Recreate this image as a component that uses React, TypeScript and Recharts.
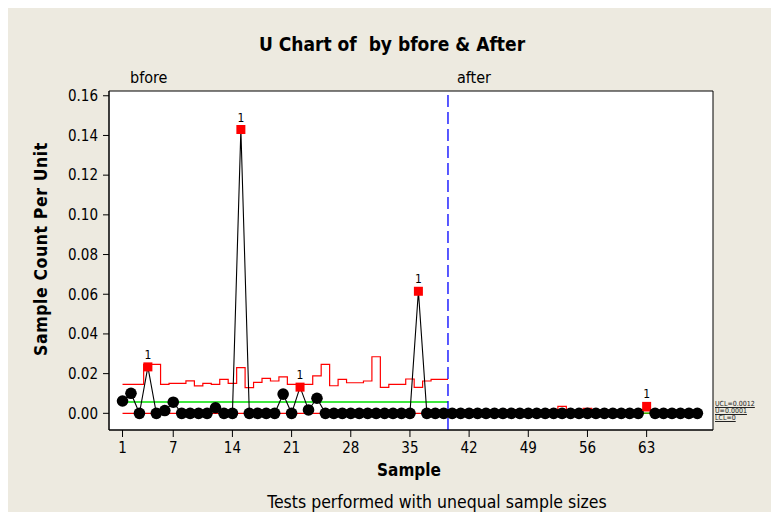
import React from "react";
import {
  ComposedChart,
  Line,
  XAxis,
  YAxis,
  CartesianGrid,
  ReferenceLine,
  ReferenceArea,
} from "recharts";

const FONT = "Tahoma, 'DejaVu Sans Condensed', 'DejaVu Sans', sans-serif";

// sample numbers 1..69
const samples = [
  1, 2, 3, 4, 5, 6, 7, 8, 9, 10, 11, 12, 13, 14, 15, 16, 17, 18, 19, 20, 21, 22, 23,
  24, 25, 26, 27, 28, 29, 30, 31, 32, 33, 34, 35, 36, 37, 38, 39, 40, 41, 42, 43, 44, 45,
  46, 47, 48, 49, 50, 51, 52, 53, 54, 55, 56, 57, 58, 59, 60, 61, 62, 63, 64, 65, 66, 67,
  68, 69,
];

// u (count per unit) per sample
const uValues = [
  0.0062, 0.0101, 0, 0.0234, 0, 0.0014, 0.0056, 0, 0, 0, 0, 0.0028, 0, 0, 0.143, 0, 0, 0,
  0, 0.0097, 0, 0.0132, 0.0017, 0.0076, 0, 0, 0, 0, 0, 0, 0, 0, 0, 0, 0, 0.0615, 0, 0, 0,
  0, 0, 0, 0, 0, 0, 0, 0, 0, 0, 0, 0, 0, 0, 0, 0, 0, 0, 0, 0, 0, 0, 0, 0.0035, 0, 0, 0, 0,
  0, 0,
];

// points failing test 1
const flagged = [4, 15, 22, 36, 63];

// upper control limits, phase "bfore" (samples 1-39)
const uclBefore = [
  0.0146, 0.0146, 0.0146, 0.0247, 0.0247, 0.0146, 0.0151, 0.0151, 0.0164, 0.0138, 0.0151,
  0.0146, 0.0171, 0.0151, 0.023, 0.0129, 0.0156, 0.0176, 0.0163, 0.0184, 0.0146, 0.0146,
  0.0146, 0.0189, 0.0247, 0.0139, 0.0171, 0.0154, 0.0154, 0.0163, 0.0285, 0.0131, 0.0146,
  0.0146, 0.0173, 0.0131, 0.0163, 0.0171, 0.0171,
];

// upper control limits, phase "after" (samples 40-69)
const uclAfter = [
  0.0012, 0.0012, 0.0018, 0.0012, 0.0012, 0.0012, 0.0012, 0.0018, 0.0012, 0.0012, 0.0012,
  0.0012, 0.0018, 0.0035, 0.0012, 0.0012, 0.0025, 0.0012, 0.0016, 0.0012, 0.0012, 0.0012,
  0.0012, 0.0012, 0.0012, 0.0012, 0.0012, 0.0012, 0.0012, 0.0012,
];

const phaseSplit = 39.5;
const centerBefore = 0.0057;
const centerAfter = 0.00012;
const lcl = 0;

const xTicks = [1, 7, 14, 21, 28, 35, 42, 49, 56, 63];
const yTicks = [0, 0.02, 0.04, 0.06, 0.08, 0.1, 0.12, 0.14, 0.16];
const X_DOMAIN: [number, number] = [-0.6, 70.85];
const Y_DOMAIN: [number, number] = [-0.0084, 0.1624];

const nBefore = uclBefore.length;
const lastSample = samples[samples.length - 1];

const points = samples.map((s, i) => ({ x: s, u: uValues[i] }));
const uclBeforeData = [
  ...uclBefore.map((v, i) => ({ x: samples[i], y: v })),
  { x: phaseSplit, y: uclBefore[nBefore - 1] },
];
const uclAfterData = [
  { x: phaseSplit, y: uclAfter[0] },
  ...uclAfter.map((v, i) => ({ x: samples[nBefore + i], y: v })),
];
const clBeforeData = [
  { x: samples[0], y: centerBefore },
  { x: phaseSplit, y: centerBefore },
];
const clAfterData = [
  { x: phaseSplit, y: centerAfter },
  { x: lastSample, y: centerAfter },
];
const lclData = [
  { x: samples[0], y: lcl },
  { x: lastSample, y: lcl },
];

function UDot(props: any) {
  const { cx, cy, payload } = props;
  if (cx == null || cy == null) return null;
  if (flagged.includes(payload.x)) {
    return (
      <g key={`d${payload.x}`}>
        <rect x={cx - 4.5} y={cy - 4.5} width={9} height={9} fill="#ff0000" />
        <text x={cx} y={cy - 8} textAnchor="middle" fontSize={12} fontFamily={FONT} fill="#000">
          1
        </text>
      </g>
    );
  }
  return <circle key={`d${payload.x}`} cx={cx} cy={cy} r={5.8} fill="#000" />;
}

const txt: React.CSSProperties = {
  position: "absolute",
  fontFamily: FONT,
  color: "#000",
  whiteSpace: "nowrap",
  lineHeight: 1,
};

const limitTxt: React.CSSProperties = {
  ...txt,
  left: 715,
  fontSize: 7,
  color: "#222",
  textDecoration: "underline",
};

export default function App() {
  return (
    <div style={{ position: "relative", width: 779, height: 520, margin: -8, background: "#fff", overflow: "hidden" }}>
      <div
        style={{
          position: "absolute",
          left: 5,
          top: 5,
          right: 0,
          bottom: 0,
          background: "#EDEAE0",
          borderTop: "1px solid #444",
          borderLeft: "1px solid #444",
        }}
      />
      <div style={{ position: "absolute", left: 0, top: 0 }}>
        <ComposedChart width={779} height={520} margin={{ top: 91, right: 66, bottom: 50, left: 49 }}>
          <CartesianGrid fill="#fff" horizontal={false} vertical={false} />
          <XAxis
            dataKey="x"
            type="number"
            domain={X_DOMAIN}
            ticks={xTicks}
            interval={0}
            allowDataOverflow
            height={40}
            tickSize={7}
            tickMargin={5}
            axisLine={{ stroke: "#000" }}
            tickLine={{ stroke: "#000" }}
            tick={{ fill: "#000", fontSize: 15, fontFamily: FONT }}
          />
          <YAxis
            type="number"
            domain={Y_DOMAIN}
            ticks={yTicks}
            interval={0}
            allowDataOverflow
            width={60}
            tickSize={6}
            tickMargin={5}
            tickFormatter={(v: number) => v.toFixed(2)}
            axisLine={{ stroke: "#000" }}
            tickLine={{ stroke: "#000" }}
            tick={{ fill: "#000", fontSize: 15, fontFamily: FONT }}
          />
          <Line data={lclData} dataKey="y" stroke="#ff0000" strokeWidth={1.2} dot={false} activeDot={false} isAnimationActive={false} />
          <Line data={clBeforeData} dataKey="y" stroke="#00e000" strokeWidth={1.4} dot={false} activeDot={false} isAnimationActive={false} />
          <Line data={clAfterData} dataKey="y" stroke="#00e000" strokeWidth={1.4} dot={false} activeDot={false} isAnimationActive={false} />
          <Line data={uclBeforeData} dataKey="y" type="step" stroke="#ff0000" strokeWidth={1.2} dot={false} activeDot={false} isAnimationActive={false} />
          <Line data={uclAfterData} dataKey="y" type="step" stroke="#ff0000" strokeWidth={1.2} dot={false} activeDot={false} isAnimationActive={false} />
          <Line
            data={points}
            dataKey="u"
            type="linear"
            stroke="#000"
            strokeWidth={1.1}
            dot={UDot}
            activeDot={false}
            isAnimationActive={false}
          />
          <ReferenceLine x={phaseSplit} stroke="#0000ff" strokeWidth={1.3} strokeDasharray="12 5" />
          <ReferenceArea x1={X_DOMAIN[0]} x2={X_DOMAIN[1]} y1={Y_DOMAIN[0]} y2={Y_DOMAIN[1]} fill="none" stroke="#000" strokeWidth={1} />
        </ComposedChart>
      </div>
      <div style={{ ...txt, left: 392, top: 35, transform: "translateX(-50%)", fontSize: 19, fontWeight: 700 }}>
        U Chart of&nbsp; by bfore &amp; After
      </div>
      <div style={{ ...txt, left: 130, top: 70, fontSize: 16 }}>bfore</div>
      <div style={{ ...txt, left: 457, top: 70, fontSize: 16 }}>after</div>
      <div
        style={{
          ...txt,
          left: 42,
          top: 249,
          transform: "translate(-50%, -50%) rotate(-90deg)",
          fontSize: 17.5,
          fontWeight: 700,
          letterSpacing: 0.6,
        }}
      >
        Sample Count Per Unit
      </div>
      <div style={{ ...txt, left: 409, top: 462, transform: "translateX(-50%)", fontSize: 17, fontWeight: 700 }}>
        Sample
      </div>
      <div style={{ ...txt, left: 437, top: 494, transform: "translateX(-50%)", fontSize: 17.5 }}>
        Tests performed with unequal sample sizes
      </div>
      <div style={{ ...limitTxt, top: 401 }}>UCL=0.0012</div>
      <div style={{ ...limitTxt, top: 408 }}>Ū=0.0001</div>
      <div style={{ ...limitTxt, top: 415 }}>LCL=0</div>
    </div>
  );
}
